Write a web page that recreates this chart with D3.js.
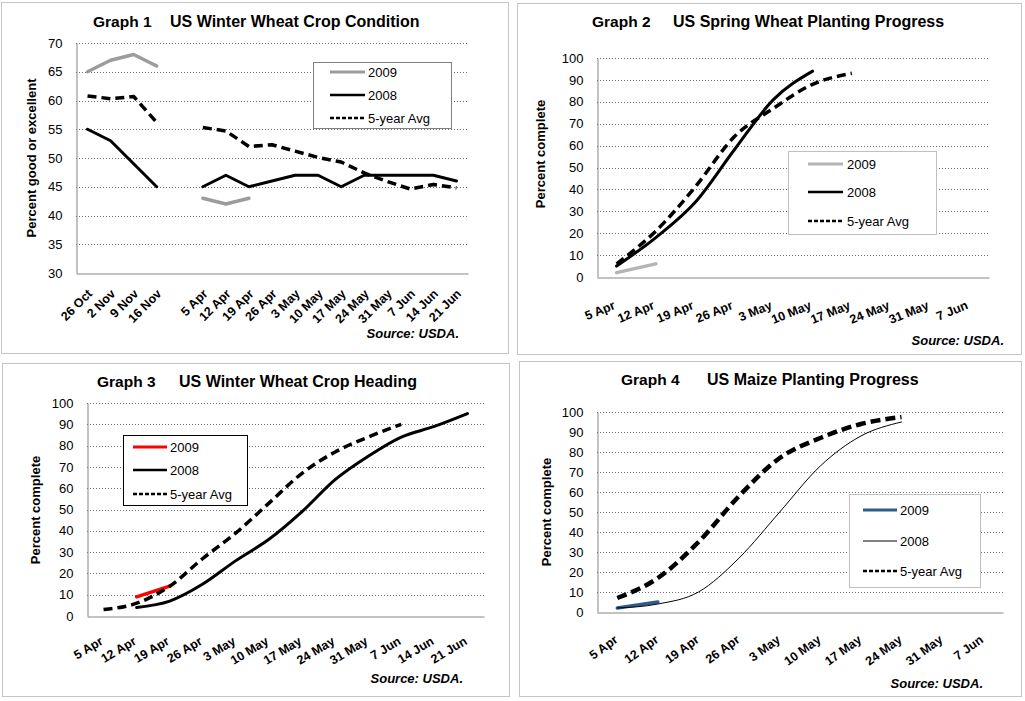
<!DOCTYPE html>
<html><head><meta charset="utf-8">
<script src="https://cdn.jsdelivr.net/npm/d3@7"></script>
<style>
body{margin:0;background:#fff}
svg{display:block}
text{font-family:"Liberation Sans",Arial,Helvetica,sans-serif;fill:#000}
</style>
</head><body>
<svg id="c" width="1025" height="701"></svg>
<script>
// ---------- DATA ----------
const g1Categories = ["26 Oct","2 Nov","9 Nov","16 Nov","","5 Apr","12 Apr","19 Apr","26 Apr","3 May","10 May","17 May","24 May","31 May","7 Jun","14 Jun","21 Jun"];
const g1Y2009 = [65,67,68,66,null,43,42,43,null,null,null,null,null,null,null,null,null];
const g1Y2008 = [55,53,49,45,null,45,47,45,46,47,47,45,47,47,47,47,46];
const g1Avg   = [60.8,60.3,60.7,56.2,null,55.3,54.7,52,52.3,51.2,50.1,49.3,47.4,45.9,44.6,45.4,44.8];
const g1Ticks = [30,35,40,45,50,55,60,65,70];

const g2Categories = ["5 Apr","12 Apr","19 Apr","26 Apr","3 May","10 May","17 May","24 May","31 May","7 Jun"];
const g2Y2009 = [2,6,null,null,null,null,null,null,null,null];
const g2Y2008 = [5,18,34,58,81,94,null,null,null,null];
const g2Avg   = [6,21,41,64,77,88,93,null,null,null];
const g2Ticks = [0,10,20,30,40,50,60,70,80,90,100];

const g3Categories = ["5 Apr","12 Apr","19 Apr","26 Apr","3 May","10 May","17 May","24 May","31 May","7 Jun","14 Jun","21 Jun"];
const g3Y2009 = [null,9,14,null,null,null,null,null,null,null,null,null];
const g3Y2008 = [null,4,7,15,26,36,49,64,75,84,89,95];
const g3Avg   = [3,6,14,27,39,53,67,77,84,90,null,null];
const g3Ticks = [0,10,20,30,40,50,60,70,80,90,100];

const g4Categories = ["5 Apr","12 Apr","19 Apr","26 Apr","3 May","10 May","17 May","24 May","31 May","7 Jun"];
const g4Y2009 = [2,5,null,null,null,null,null,null,null,null];
const g4Y2008 = [2,4,10,27,50,73,88,95,null,null];
const g4Avg   = [7,17,35,58,77,87,94,97.5,null,null];
const g4Ticks = [0,10,20,30,40,50,60,70,80,90,100];

const seriesNames = ["2009","2008","5-year Avg"];

// ---------- DRAW ----------
const svg = d3.select("#c");

function drawPanel(p) {
  const g = svg.append("g");
  g.append("rect")
    .attr("x", p.box[0] + 0.5).attr("y", p.box[1] + 0.5)
    .attr("width", p.box[2] - p.box[0]).attr("height", p.box[3] - p.box[1])
    .attr("fill", "#fff").attr("stroke", "#8a8a8a").attr("stroke-dasharray", "1,1");

  const x = d3.scalePoint().domain(d3.range(p.categories.length))
    .range([p.plot.left, p.plot.right]).padding(0.5);
  const y = d3.scaleLinear().domain([p.ticks[0], p.ticks[p.ticks.length - 1]])
    .range([p.plot.bottom, p.plot.top]);

  // gridlines
  g.append("g").selectAll("line").data(p.ticks.slice(1)).join("line")
    .attr("x1", p.plot.left).attr("x2", p.plot.right)
    .attr("y1", d => Math.round(y(d)) + 0.5).attr("y2", d => Math.round(y(d)) + 0.5)
    .attr("stroke", "#6e6e6e").attr("stroke-width", 1).attr("stroke-dasharray", "1,2");

  // y axis
  const ya = g.append("g").attr("transform", `translate(${p.plot.left + 0.5},0)`)
    .call(d3.axisLeft(y).tickValues(p.ticks).tickSize(0).tickSizeOuter(0).tickPadding(14));
  ya.select(".domain").attr("stroke", "#868686");
  ya.selectAll("text").attr("font-size", 13).attr("font-family", null).style("fill", "#000");

  // x axis
  const xa = g.append("g").attr("transform", `translate(0,${p.plot.bottom + 0.5})`)
    .call(d3.axisBottom(x).tickSize(0).tickSizeOuter(0).tickFormat(i => p.categories[i]));
  xa.select(".domain").attr("stroke", "#868686");
  xa.selectAll("text")
    .attr("font-size", 12.5).attr("font-weight", "bold").attr("font-family", null)
    .attr("text-anchor", "end").attr("x", 0).attr("y", 0).attr("dy", 0)
    .attr("transform", `translate(${p.xl.dx},${p.xl.dy}) rotate(${p.xl.angle})`);

  // series lines
  p.series.forEach(s => {
    const line = d3.line().defined(d => d != null)
      .x((d, i) => x(i)).y(d => y(d)).curve(p.curve);
    g.append("path").datum(s.values)
      .attr("d", line).attr("fill", "none")
      .attr("stroke", s.color).attr("stroke-width", s.width)
      .attr("stroke-dasharray", s.dash || null)
      .attr("stroke-linejoin", "round").attr("stroke-linecap", s.dash ? "butt" : "round");
  });

  // legend
  const L = p.legend;
  g.append("rect").attr("x", L.x + 0.5).attr("y", L.y + 0.5).attr("width", L.w).attr("height", L.h)
    .attr("fill", "#fff").attr("stroke", L.border);
  p.series.forEach((s, i) => {
    g.append("line").attr("x1", L.x1).attr("x2", L.x2).attr("y1", L.rows[i]).attr("y2", L.rows[i])
      .attr("stroke", s.color).attr("stroke-width", s.lw).attr("stroke-dasharray", s.ldash || null);
    g.append("text").attr("x", L.tx).attr("y", L.rows[i] + 4.5).attr("font-size", 13).text(seriesNames[i]);
  });

  // titles
  g.append("text").attr("x", p.title.x1).attr("y", p.title.y).attr("font-size", 15.5)
    .attr("font-weight", "bold").text(p.title.t1);
  g.append("text").attr("x", p.title.x2).attr("y", p.title.y).attr("font-size", 16)
    .attr("font-weight", "bold").text(p.title.t2);

  // y axis title
  g.append("text").attr("transform", `translate(${p.yt.x},${p.yt.y}) rotate(-90)`)
    .attr("text-anchor", "middle").attr("font-size", 13).attr("font-weight", "bold").text(p.yt.t);

  // source
  g.append("text").attr("x", p.src.x).attr("y", p.src.y).attr("text-anchor", "end")
    .attr("font-size", 13).attr("font-weight", "bold").attr("font-style", "italic").text("Source: USDA.");
}

drawPanel({
  box: [1, 2, 508, 353],
  plot: {left: 76, right: 468, top: 43, bottom: 273},
  categories: g1Categories, ticks: g1Ticks, curve: d3.curveLinear,
  xl: {angle: -45, dx: 5, dy: 21},
  series: [
    {values: g1Y2009, color: "#9c9c9c", width: 3.5, lw: 3},
    {values: g1Y2008, color: "#000", width: 3, lw: 2.5},
    {values: g1Avg, color: "#000", width: 3.5, dash: "9,5", lw: 2.5, ldash: "4,2"}
  ],
  legend: {x: 313, y: 62, w: 138, h: 66, x1: 330, x2: 365, tx: 368, rows: [72, 95, 118], border: "#808080"},
  title: {x1: 93, x2: 170, y: 27, t1: "Graph 1", t2: "US Winter Wheat Crop Condition"},
  yt: {x: 36, y: 158, t: "Percent good or excellent"},
  src: {x: 459, y: 338}
});

drawPanel({
  box: [517, 3, 1021, 354],
  plot: {left: 597, right: 989, top: 58, bottom: 277},
  categories: g2Categories, ticks: g2Ticks, curve: d3.curveMonotoneX,
  xl: {angle: -22, dx: -1, dy: 31},
  series: [
    {values: g2Y2009, color: "#b4b4b4", width: 3.5, lw: 3},
    {values: g2Y2008, color: "#000", width: 3, lw: 2.5},
    {values: g2Avg, color: "#000", width: 3.5, dash: "9,5", lw: 2.5, ldash: "4,2"}
  ],
  legend: {x: 788, y: 151, w: 148, h: 83, x1: 808, x2: 843, tx: 847, rows: [164, 192, 221], border: "#c0c0c0"},
  title: {x1: 592, x2: 673, y: 27, t1: "Graph 2", t2: "US Spring Wheat Planting Progress"},
  yt: {x: 545, y: 154, t: "Percent complete"},
  src: {x: 1004, y: 345}
});

drawPanel({
  box: [2, 363, 509, 696],
  plot: {left: 87, right: 484, top: 403, bottom: 616},
  categories: g3Categories, ticks: g3Ticks, curve: d3.curveMonotoneX,
  xl: {angle: -31, dx: 0, dy: 27},
  series: [
    {values: g3Y2009, color: "#ff0000", width: 3.5, lw: 3},
    {values: g3Y2008, color: "#000", width: 3, lw: 2.5},
    {values: g3Avg, color: "#000", width: 3.5, dash: "9,5", lw: 2.5, ldash: "4,2"}
  ],
  legend: {x: 123, y: 435, w: 124, h: 70, x1: 133, x2: 167, tx: 170, rows: [447, 470, 494], border: "#000"},
  title: {x1: 97, x2: 179, y: 387, t1: "Graph 3", t2: "US Winter Wheat Crop Heading"},
  yt: {x: 40, y: 510, t: "Percent complete"},
  src: {x: 463, y: 683}
});

drawPanel({
  box: [519, 361, 1021, 696],
  plot: {left: 597, right: 1003, top: 412, bottom: 612},
  categories: g4Categories, ticks: g4Ticks, curve: d3.curveMonotoneX,
  xl: {angle: -36, dx: 1, dy: 29},
  series: [
    {values: g4Y2009, color: "#2c5c8c", width: 3.5, lw: 3},
    {values: g4Y2008, color: "#000", width: 1, lw: 1},
    {values: g4Avg, color: "#000", width: 4.5, dash: "10,5", lw: 2.5, ldash: "4,2"}
  ],
  legend: {x: 849, y: 494, w: 131, h: 93, x1: 863, x2: 897, tx: 900, rows: [510, 541, 571], border: "#c0c0c0"},
  title: {x1: 621, x2: 707, y: 385, t1: "Graph 4", t2: "US Maize Planting Progress"},
  yt: {x: 551, y: 512, t: "Percent complete"},
  src: {x: 983, y: 688}
});
</script>
</body></html>
